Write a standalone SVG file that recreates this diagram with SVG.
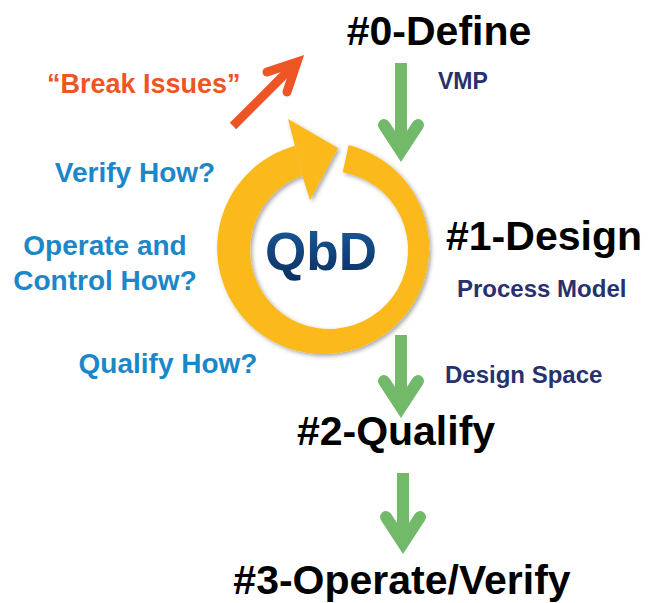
<svg xmlns="http://www.w3.org/2000/svg" width="651" height="603" viewBox="0 0 651 603">
<style>
.h{font-family:"Liberation Sans",Arial,sans-serif;font-weight:bold;font-size:41px;fill:#000;text-anchor:middle}
.sub{font-family:"Liberation Sans",Arial,sans-serif;font-weight:bold;fill:#28306E}
.q{font-family:"Liberation Sans",Arial,sans-serif;font-weight:bold;font-size:28px;fill:#1B87C9;text-anchor:middle}
.g{fill:none;stroke:#72B96A;stroke-width:12}
.gh{fill:none;stroke:#72B96A;stroke-width:12;stroke-linejoin:miter;stroke-miterlimit:10;stroke-linecap:round}
</style>
<defs>
<filter id="sh" x="-20%" y="-20%" width="140%" height="140%">
<feDropShadow dx="2" dy="2" stdDeviation="2" flood-color="#000" flood-opacity="0.35"/>
</filter>
<linearGradient id="qg" x1="0" y1="0" x2="0" y2="1">
<stop offset="0" stop-color="#1A5C9C"/>
<stop offset="1" stop-color="#0B2F5E"/>
</linearGradient>
</defs>
<rect width="651" height="603" fill="#fff"/>

<g id="connectors">
<g id="arrow-define-design">
<line class="g" x1="401" y1="63" x2="401" y2="150"/>
<polyline class="gh" points="384,125 401,151 418,125"/>
</g>
<g id="arrow-design-qualify">
<line class="g" x1="401" y1="335" x2="401" y2="406"/>
<polyline class="gh" points="384,381 401,407 418,381"/>
</g>
<g id="arrow-qualify-operate">
<line class="g" x1="403" y1="473" x2="403" y2="542"/>
<polyline class="gh" points="386,517 403,543 420,517"/>
</g>
<g id="arrow-break">
<line x1="233" y1="126" x2="295" y2="64" stroke="#EE5524" stroke-width="9"/>
<polyline points="267,72 297,62 287,92" fill="none" stroke="#EE5524" stroke-width="9" stroke-linejoin="miter" stroke-linecap="round"/>
</g>
</g>

<g id="qbd-cycle">
<g filter="url(#sh)" fill="#FBB91A">
<path d="M348.6,145.1 A106,106 0 1 1 295.0,145.8 L302,175.8 A79,79 0 1 0 342.7,172.2 Z"/>
<polygon points="288,119 338,148 310,200 302,175 295,146"/>
</g>
<text x="321" y="270" font-family="'Liberation Sans',Arial,sans-serif" font-weight="bold" font-size="53" text-anchor="middle" fill="url(#qg)" stroke="#ffffff" stroke-width="1" paint-order="stroke">QbD</text>
</g>

<g id="define">
<text class="h" x="439" y="45">#0-Define</text>
<text class="sub" x="438" y="89" font-size="23">VMP</text>
</g>
<g id="design">
<text class="h" x="544" y="250">#1-Design</text>
<text class="sub" x="457" y="297" font-size="24">Process Model</text>
</g>
<g id="qualify">
<text class="sub" x="445" y="383" font-size="24">Design Space</text>
<text class="h" x="396" y="445">#2-Qualify</text>
</g>
<g id="operate">
<text class="h" x="402" y="594">#3-Operate/Verify</text>
</g>

<g id="questions">
<text x="47" y="93" font-family="'Liberation Sans',Arial,sans-serif" font-weight="bold" font-size="27" fill="#EE5524">“Break Issues”</text>
<text class="q" x="135" y="182">Verify How?</text>
<text class="q" x="105" y="255">Operate and</text>
<text class="q" x="105" y="290">Control How?</text>
<text class="q" x="168" y="373">Qualify How?</text>
</g>
</svg>
